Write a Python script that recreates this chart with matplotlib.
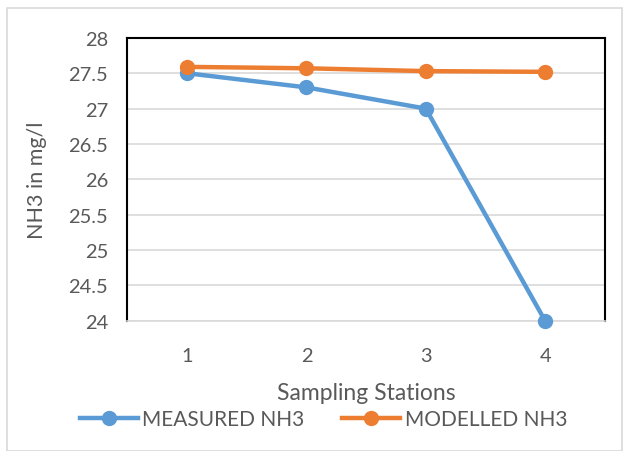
import matplotlib.pyplot as plt
from matplotlib.patches import Rectangle

# Data
stations = [1, 2, 3, 4]
measured = [27.5, 27.3, 27.0, 24.0]
modelled = [27.59, 27.57, 27.53, 27.52]
yticks = [24, 24.5, 25, 25.5, 26, 26.5, 27, 27.5, 28]

plt.rcParams['font.family'] = ['Lato', 'DejaVu Sans']
txt = '#595959'

fig = plt.figure(figsize=(6.28, 4.52), dpi=100)
fig.patches.append(Rectangle((7 / 628, 0.0), 615 / 628, 1 - 9 / 452, transform=fig.transFigure,
                             fill=False, edgecolor='#d9d9d9', linewidth=1.2))
ax = fig.add_axes([0.203, 0.288, 0.76, 0.626])

ax.plot(stations, measured, color='#5b9bd5', linewidth=3.2, marker='o', markersize=10,
        label='MEASURED NH3', zorder=3, clip_on=False)
ax.plot(stations, modelled, color='#ed7d31', linewidth=3.2, marker='o', markersize=10,
        label='MODELLED NH3', zorder=3, clip_on=False)

ax.set_xlim(0.5, 4.5)
ax.set_ylim(24, 28)
ax.set_xticks(stations)
ax.set_yticks(yticks)
ax.set_yticklabels([f'{v:g}' for v in yticks])
ax.grid(axis='y', color='#d9d9d9', linewidth=1.2, zorder=0)
ax.tick_params(length=0, labelsize=14.4, colors=txt)
ax.tick_params(axis='y', pad=14)
ax.tick_params(axis='x', pad=19)

for s in ['left', 'top', 'right']:
    ax.spines[s].set_color('black')
    ax.spines[s].set_linewidth(1.5)
ax.spines['bottom'].set_color('#d9d9d9')
ax.spines['bottom'].set_linewidth(1.2)

ax.set_xlabel('Sampling Stations', fontsize=16.5, color=txt, labelpad=13)
ax.set_ylabel('NH3 in mg/l', fontsize=15.5, color=txt, labelpad=15)

fig.legend(loc='center', bbox_to_anchor=(0.515, 0.07), ncol=2, frameon=False,
           fontsize=15, labelcolor=txt, handlelength=2.8, columnspacing=1.8,
           handletextpad=0.2)

fig.savefig('out.png', dpi=100)
